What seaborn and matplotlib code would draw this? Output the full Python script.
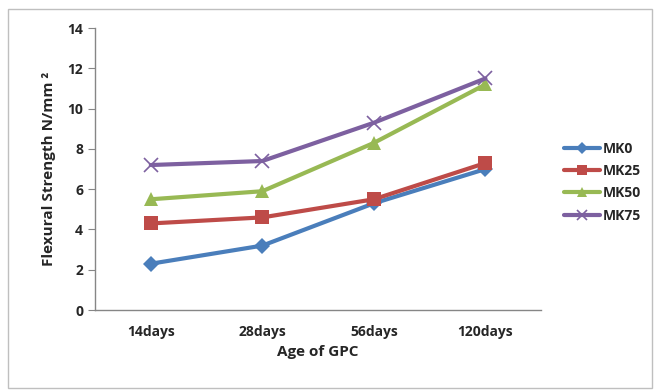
import numpy as np
import pandas as pd
import matplotlib
matplotlib.use("Agg")
import matplotlib.pyplot as plt
import seaborn as sns
from matplotlib.patches import Rectangle

ages = ["14days", "28days", "56days", "120days"]
series_names = ["MK0", "MK25", "MK50", "MK75"]
mk0 = [2.3, 3.2, 5.3, 7.0]
mk25 = [4.3, 4.6, 5.5, 7.3]
mk50 = [5.5, 5.9, 8.3, 11.2]
mk75 = [7.2, 7.4, 9.3, 11.5]
y_ticks = [0, 2, 4, 6, 8, 10, 12, 14]

colors = {"MK0": "#4A7EBB", "MK25": "#BE4B48", "MK50": "#98B954", "MK75": "#7D60A0"}
markers = {"MK0": "D", "MK25": "s", "MK50": "^", "MK75": "x"}
msizes = {"MK0": 8, "MK25": 10, "MK50": 10, "MK75": 10}

rows = []
for name, vals in zip(series_names, [mk0, mk25, mk50, mk75]):
    for i, v in enumerate(vals):
        rows.append({"pos": i, "age": ages[i], "value": v, "series": name})
df = pd.DataFrame(rows)

sns.set_style("white")
plt.rcParams["font.family"] = ["Open Sans", "DejaVu Sans"]
plt.rcParams["font.weight"] = "bold"

fig = plt.figure(figsize=(6.6, 3.9), dpi=100)
ax = fig.add_axes([0.144, 0.205, 0.676, 0.723])

for name in series_names:
    sub = df[df["series"] == name]
    sns.lineplot(data=sub, x="pos", y="value", ax=ax, color=colors[name],
                 marker=markers[name], markersize=msizes[name], linewidth=3,
                 markeredgewidth=1.2 if name == "MK75" else 0,
                 markeredgecolor=colors[name], label=name)

ax.set_xlim(-0.5, 3.5)
ax.set_ylim(0, 14)
ax.set_yticks(y_ticks)
ax.set_yticklabels([str(t) for t in y_ticks], fontsize=10, fontweight="bold")
ax.set_xticks(range(len(ages)))
ax.set_xticklabels(ages, fontsize=10, fontweight="bold")
ax.set_xticks(np.arange(-0.5, 4, 1), minor=True)
ax.tick_params(axis="x", which="major", length=0, pad=11)
ax.tick_params(axis="x", which="minor", length=5, color="#868686", direction="out")
ax.tick_params(axis="y", length=5, color="#868686", direction="out", left=True)
ax.set_xlabel("Age of GPC", fontsize=11, fontweight="bold", labelpad=4)
ax.set_ylabel("Flexural Strength N/mm \u00b2", fontsize=11, fontweight="bold", labelpad=8)

for side in ["top", "right"]:
    ax.spines[side].set_visible(False)
for side in ["left", "bottom"]:
    ax.spines[side].set_color("#868686")
    ax.spines[side].set_linewidth(1)

leg = ax.legend(loc="center left", bbox_to_anchor=(1.05, 0.454), frameon=False,
                fontsize=10, handlelength=2.6, labelspacing=0.6, handletextpad=0.2,
                borderaxespad=0, borderpad=0, markerscale=0.75)
for t in leg.get_texts():
    t.set_fontweight("bold")

fig.patches.append(Rectangle((8 / 660, 2 / 390), 644 / 660, 379 / 390, transform=fig.transFigure,
                             fill=False, edgecolor="#BFBFBF", linewidth=1))

fig.savefig("out.png", dpi=100)
